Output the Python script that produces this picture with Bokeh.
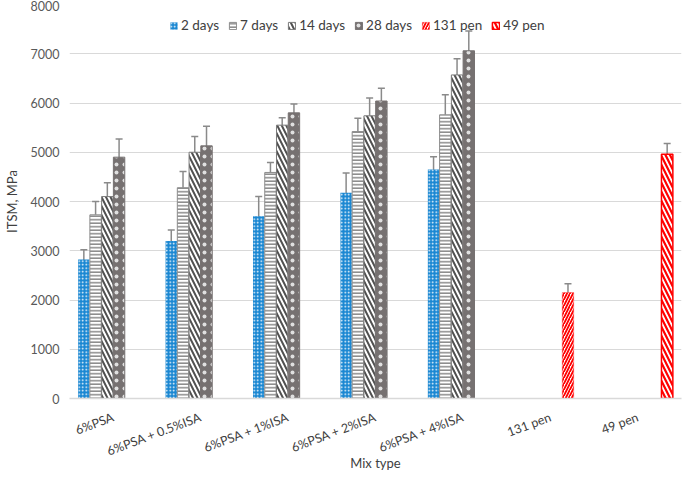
from bokeh.plotting import figure
from bokeh.models import ColumnDataSource, Whisker, TeeHead, Legend, LegendItem, FixedTicker, Range1d, FactorRange
from bokeh.transform import dodge
from bokeh.embed import file_html
from bokeh.resources import INLINE

categories = ["6%PSA", "6%PSA + 0.5%ISA", "6%PSA + 1%ISA", "6%PSA + 2%ISA",
              "6%PSA + 4%ISA", "131 pen", "49 pen"]
series_names = ["2 days", "7 days", "14 days", "28 days", "131 pen", "49 pen"]

days2 = [2820, 3200, 3700, 4180, 4650, None, None]
days2_err = [200, 220, 400, 400, 260, None, None]
days7 = [3730, 4280, 4590, 5420, 5760, None, None]
days7_err = [270, 330, 200, 270, 410, None, None]
days14 = [4100, 5000, 5550, 5740, 6570, None, None]
days14_err = [280, 320, 150, 360, 330, None, None]
days28 = [4900, 5130, 5800, 6040, 7060, None, None]
days28_err = [370, 400, 180, 260, 400, None, None]
pen131 = [None, None, None, None, None, 2150, None]
pen131_err = [None, None, None, None, None, 180, None]
pen49 = [None, None, None, None, None, None, 4960]
pen49_err = [None, None, None, None, None, None, 220]

y_ticks = [0, 1000, 2000, 3000, 4000, 5000, 6000, 7000, 8000]

values = [days2, days7, days14, days28, pen131, pen49]
errors = [days2_err, days7_err, days14_err, days28_err, pen131_err, pen49_err]

styles = [
    dict(fill_color="#1a87d2", line_color="#1a87d2", hatch_pattern="dot", hatch_color="white", hatch_scale=3.5, hatch_weight=1, line_alpha=0.0),
    dict(fill_color="white", line_color="#8c8c8c", hatch_pattern="horizontal_line", hatch_color="#8c8c8c", hatch_scale=3.5, hatch_weight=1.6),
    dict(fill_color="white", line_color="#7a7a7a", hatch_pattern="left_diagonal_line", hatch_color="#505050", hatch_scale=9, hatch_weight=2),
    dict(fill_color="#767171", line_color="#767171", hatch_pattern="dot", hatch_color="#e0e0e0", hatch_scale=8, hatch_weight=0.8),
    dict(fill_color="white", line_color="#ff2020", hatch_pattern="right_diagonal_line", hatch_color="#ff0000", hatch_scale=6, hatch_weight=1.8, line_alpha=0.4),
    dict(fill_color="white", line_color="#ff0000", hatch_pattern="left_diagonal_line", hatch_color="#ff0000", hatch_scale=9, hatch_weight=2.2, line_width=1.5),
]

p = figure(width=683, height=475, x_range=FactorRange(*categories, range_padding=0),
           y_range=Range1d(0, 8000), output_backend="svg", toolbar_location=None,
           min_border_top=4, min_border_right=2, min_border_left=64, min_border_bottom=77)
p.outline_line_color = None
p.background_fill_color = "white"
p.border_fill_color = "white"

slot = 0.1344
items = []
for i, (name, vals, errs, st) in enumerate(zip(series_names, values, errors, styles)):
    cats = [c for c, v in zip(categories, vals) if v is not None]
    vv = [v for v in vals if v is not None]
    ee = [e for e in errs if e is not None]
    src = ColumnDataSource(dict(cat=cats, val=vv,
                                upper=[v + e for v, e in zip(vv, ee)],
                                lower=[v - e for v, e in zip(vv, ee)]))
    off = (i - 2.5) * slot
    r = p.vbar(x=dodge("cat", off, range=p.x_range), top="val", width=slot * 0.97,
               source=src, **st)
    items.append(LegendItem(label=name, renderers=[r]))
    w = Whisker(source=src, base=dodge("cat", off, range=p.x_range), upper="upper", lower="lower",
                line_color="#8a8a8a", line_width=1.5,
                upper_head=TeeHead(size=7, line_color="#8a8a8a", line_width=1.5),
                lower_head=TeeHead(size=7, line_color="#8a8a8a", line_width=1.5))
    p.add_layout(w)

legend = Legend(items=items, orientation="horizontal", location=(100, 365),
                border_line_color=None, background_fill_alpha=0.0,
                label_text_font="Lato", label_text_font_size="13.5px", label_text_color="#404040",
                glyph_width=9, glyph_height=9, label_standoff=3, spacing=9,
                padding=2, margin=0, label_height=14)
p.add_layout(legend)

p.yaxis.ticker = FixedTicker(ticks=y_ticks)
p.yaxis.axis_line_color = None
p.yaxis.major_tick_line_color = None
p.yaxis.minor_tick_line_color = None
p.yaxis.major_tick_out = 0
p.yaxis.major_tick_in = 0
p.yaxis.minor_tick_out = 0
p.yaxis.major_label_text_font = "Lato"
p.yaxis.major_label_text_font_size = "12.5px"
p.yaxis.major_label_text_color = "#595959"
p.yaxis.axis_label = "ITSM, MPa"
p.yaxis.axis_label_text_font = "Lato"
p.yaxis.axis_label_text_font_size = "13px"
p.yaxis.axis_label_text_font_style = "normal"
p.yaxis.axis_label_text_color = "#404040"
p.yaxis.major_label_standoff = 10
p.yaxis.axis_label_standoff = 8

p.xaxis.axis_line_color = "#d9d9d9"
p.xaxis.axis_line_width = 1.5
p.xaxis.major_tick_line_color = None
p.xaxis.minor_tick_line_color = None
p.xaxis.major_tick_out = 0
p.xaxis.major_tick_in = 0
p.xaxis.minor_tick_out = 0
p.xaxis.major_label_orientation = 0.36
p.xaxis.major_label_text_font = "Lato"
p.xaxis.major_label_text_font_size = "12.5px"
p.xaxis.major_label_text_color = "#404040"
p.xaxis.major_label_standoff = 18
p.xaxis.axis_label = "Mix type"
p.xaxis.axis_label_text_font = "Lato"
p.xaxis.axis_label_text_font_size = "13px"
p.xaxis.axis_label_text_font_style = "normal"
p.xaxis.axis_label_text_color = "#404040"
p.xaxis.axis_label_standoff = -14

p.xgrid.grid_line_color = None
p.ygrid.grid_line_color = "#d9d9d9"
p.ygrid.grid_line_width = 1.2

open("out.html", "w").write(file_html(p, INLINE))
